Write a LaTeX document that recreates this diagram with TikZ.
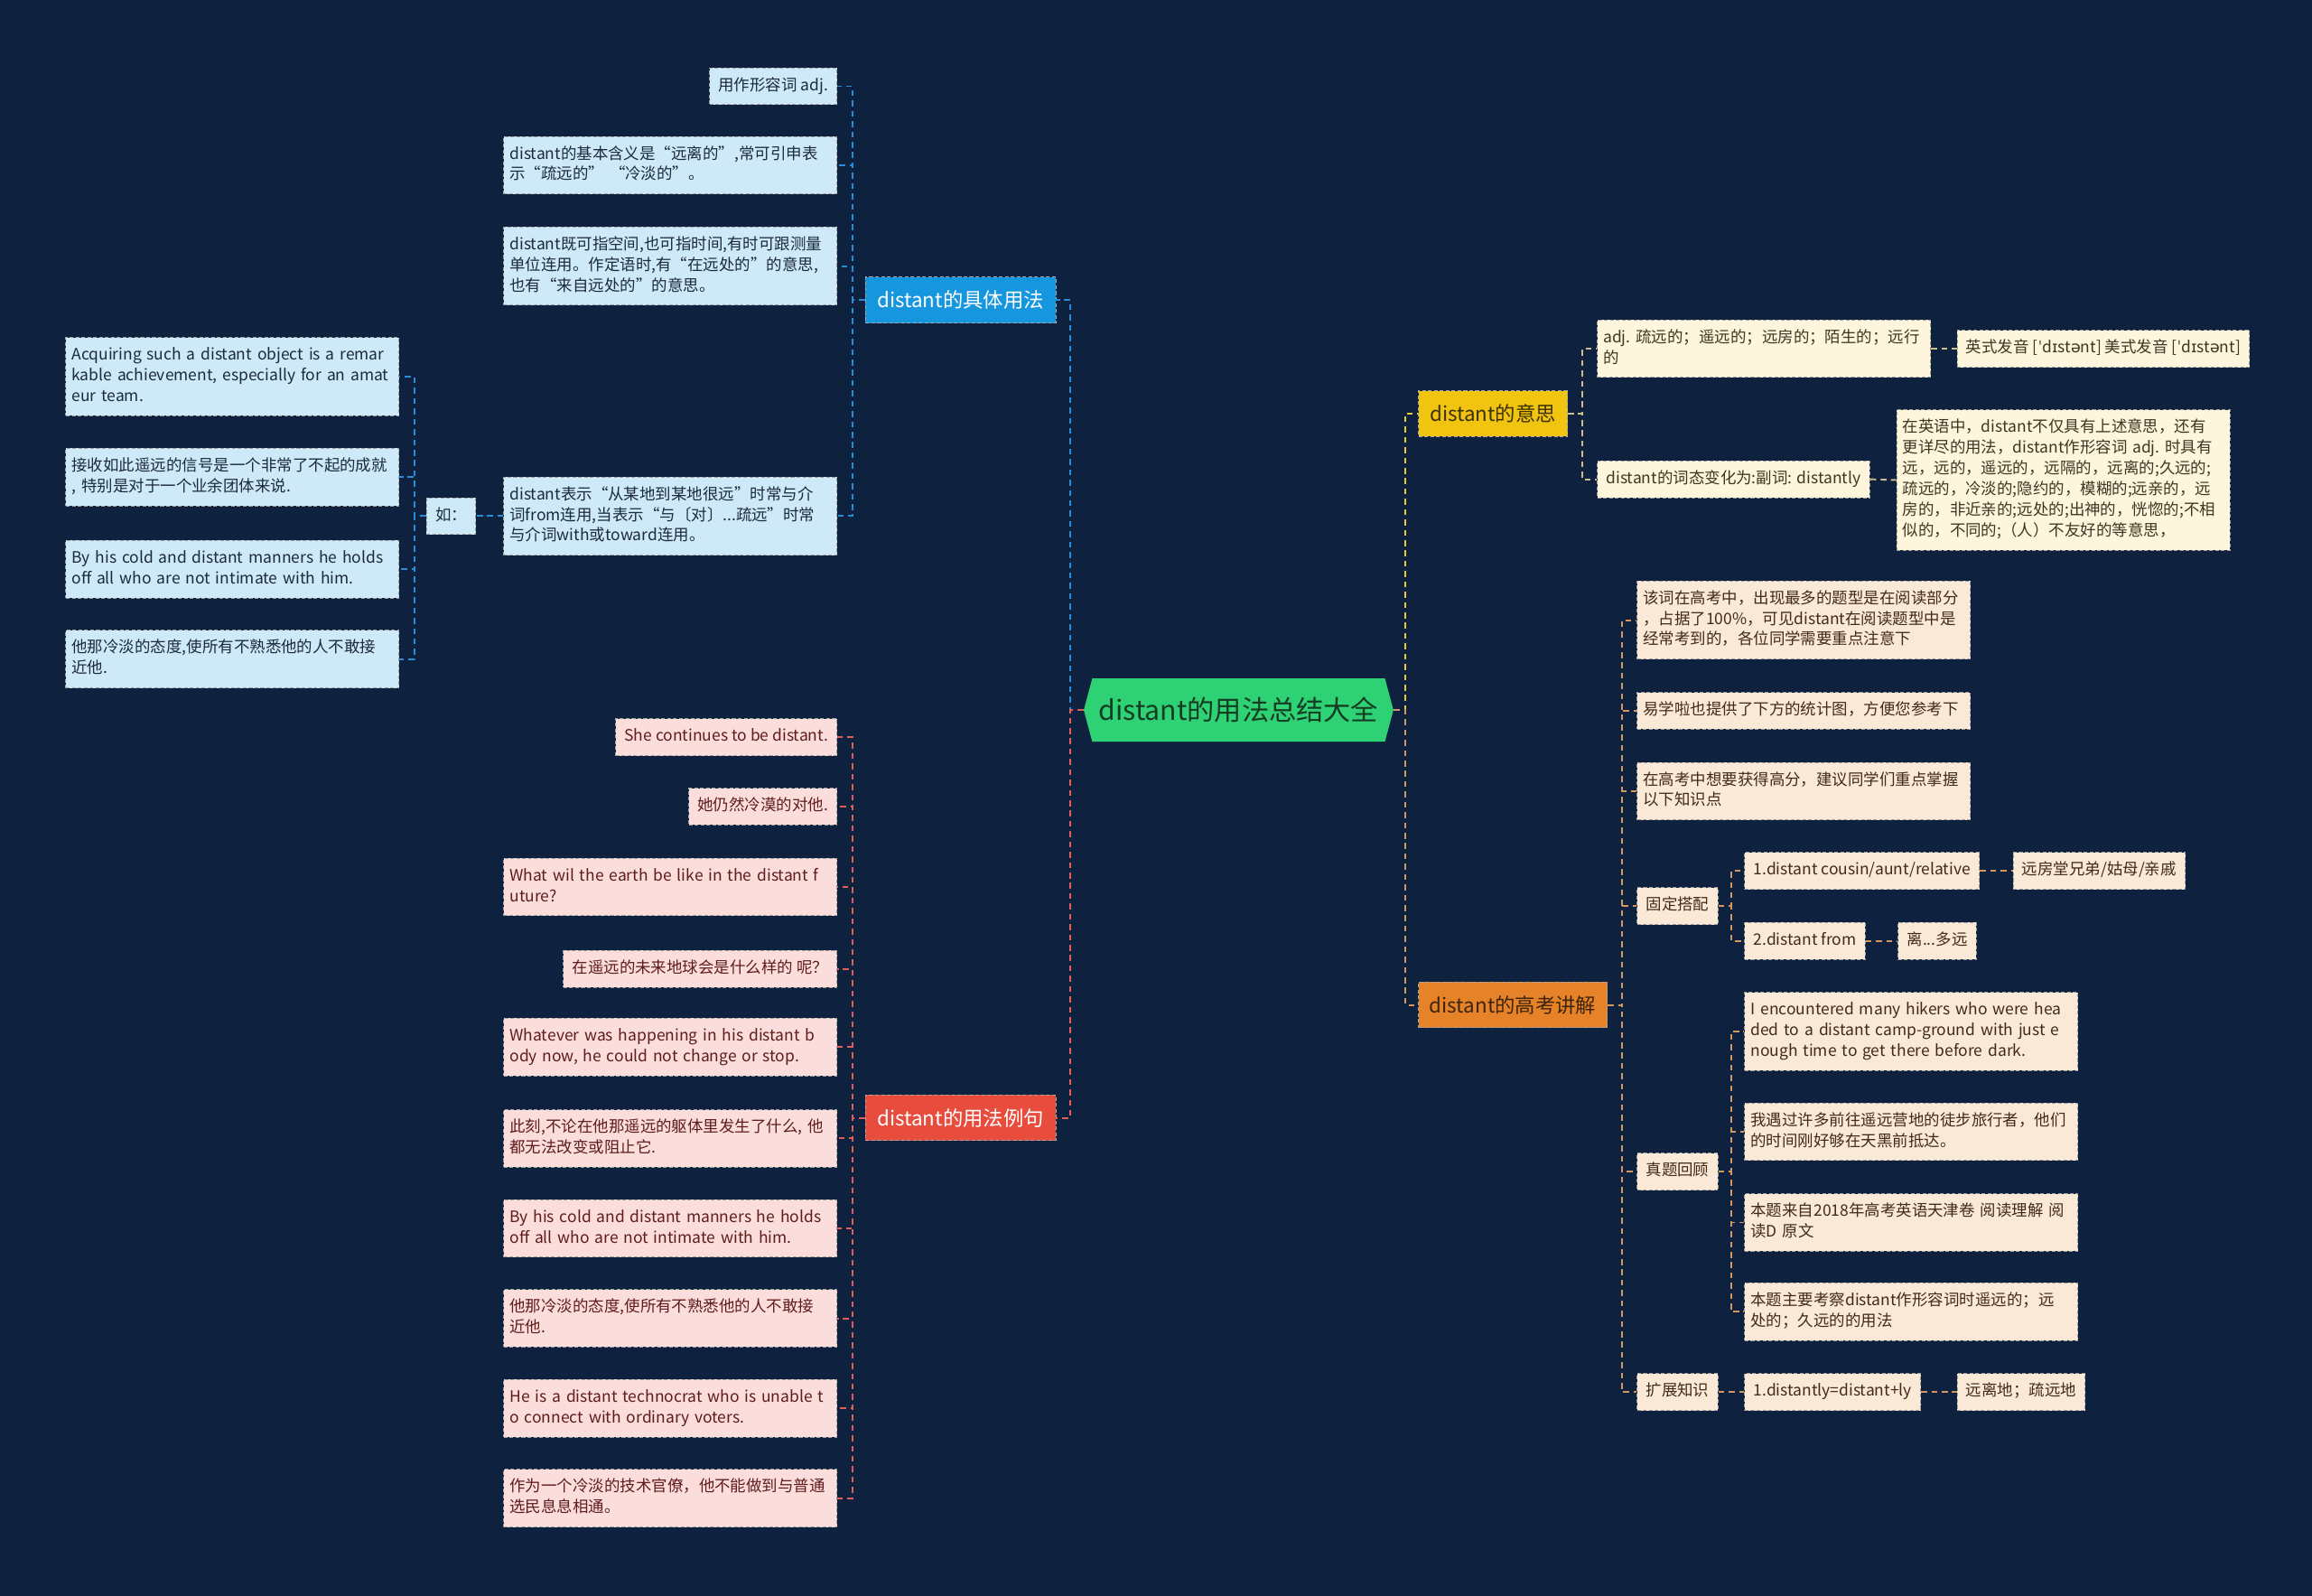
\documentclass[tikz,border=0pt]{standalone}
\usepackage{fontspec}
\setmainfont{Noto Sans CJK SC}
\newfontfamily\ipafont{DejaVu Sans}
\usetikzlibrary{shapes.symbols}

\definecolor{bgnavy}{RGB}{14,33,62}
\definecolor{rootgreen}{RGB}{46,209,115}
\definecolor{roottext}{RGB}{20,60,35}
\definecolor{useblue}{RGB}{22,150,222}
\definecolor{leafblue}{RGB}{206,234,248}
\definecolor{inkblue}{RGB}{28,42,58}
\definecolor{lineblue}{RGB}{40,140,215}
\definecolor{exred}{RGB}{232,76,61}
\definecolor{leafpink}{RGB}{251,222,219}
\definecolor{inkred}{RGB}{95,28,28}
\definecolor{linered}{RGB}{222,96,88}
\definecolor{meanyellow}{RGB}{241,196,15}
\definecolor{inkyellow}{RGB}{60,48,5}
\definecolor{leafcream}{RGB}{253,246,220}
\definecolor{inkolive}{RGB}{60,55,35}
\definecolor{lineyellow}{RGB}{236,200,60}
\definecolor{linekhaki}{RGB}{205,190,140}
\definecolor{examorange}{RGB}{230,130,40}
\definecolor{inkorange}{RGB}{62,36,14}
\definecolor{leafpeach}{RGB}{251,233,215}
\definecolor{inkbrown}{RGB}{66,42,22}
\definecolor{lineorange}{RGB}{214,150,95}

\begin{document}
\begin{tikzpicture}[%
            x=1pt,
            y=-1pt,
            ]
    \tikzset{box/.style = {draw=gray!75, dash pattern=on 2.5pt off 1.5pt, line width=0.6pt, inner xsep=6pt, inner ysep=5.5pt, align=left, font=\fontsize{10.7}{14}\selectfont, execute at begin node=\strut, execute at end node=\strut}}
    \tikzset{wide/.style = {text width=218pt, inner xsep=4pt}}
    \tikzset{bluebox/.style = {box, fill=leafblue, text=inkblue}}
    \tikzset{pinkbox/.style = {box, fill=leafpink, text=inkred}}
    \tikzset{creambox/.style = {box, fill=leafcream, text=inkolive}}
    \tikzset{peachbox/.style = {box, fill=leafpeach, text=inkbrown}}
    \tikzset{topic/.style = {draw=black!35, dash pattern=on 2.5pt off 1.5pt, line width=0.6pt, minimum height=31pt, inner sep=3pt, font=\fontsize{13.7}{16}\selectfont}}
    \tikzset{root/.style = {shape=signal, signal to=west and east, signal pointer angle=150, fill=rootgreen, text=roottext, minimum height=43pt, minimum width=210pt, inner xsep=4pt, font=\fontsize{18.5}{22}\selectfont}}
    \tikzset{link/.style = {line width=1.2pt, dash pattern=on 4pt off 3pt}}

    % Background
    \fill[bgnavy] (0,0) rectangle (1568,1082);

    % Root
    \node[root] (root) at (840,481.5) {distant的用法总结大全};

    % Main topics
    \node[topic, fill=useblue, text=white, minimum width=129pt] (usage) at (651.5,203.5) {distant的具体用法};
    \node[topic, fill=exred, text=white, minimum width=129pt] (examples) at (651.5,758) {distant的用法例句};
    \node[topic, fill=meanyellow, text=inkyellow, minimum width=101pt] (meaning) at (1012.5,280.5) {distant的意思};
    \node[topic, fill=examorange, text=inkorange, minimum width=128pt] (exam) at (1026,681.5) {distant的高考讲解};

    % Usage
    \node[bluebox, anchor=east] (u1) at (568,58.5) {用作形容词 adj.};
    \node[bluebox, wide, anchor=east] (u2) at (568,112) {distant的基本含义是“远离的”,常可引申表\\示“疏远的” “冷淡的”。};
    \node[bluebox, wide, anchor=east] (u3) at (568,180.5) {distant既可指空间,也可指时间,有时可跟测量\\单位连用。作定语时,有“在远处的”的意思,\\也有“来自远处的”的意思。};
    \node[bluebox, wide, anchor=east] (u4) at (568,350) {distant表示“从某地到某地很远”时常与介\\词from连用,当表示“与〔对〕...疏远”时常\\与介词with或toward连用。};
    \node[bluebox, anchor=east] (eg) at (323,350) {如：};
    \node[bluebox, wide, anchor=east] (eg1) at (271,255.5) {Acquiring such a distant object is a remar\\kable achievement, especially for an amat\\eur team.};
    \node[bluebox, wide, anchor=east] (eg2) at (271,323.5) {接收如此遥远的信号是一个非常了不起的成就\\, 特别是对于一个业余团体来说.};
    \node[bluebox, wide, anchor=east] (eg3) at (271,386) {By his cold and distant manners he holds\\off all who are not intimate with him.};
    \node[bluebox, wide, anchor=east] (eg4) at (271,447) {他那冷淡的态度,使所有不熟悉他的人不敢接\\近他.};

    % Examples
    \node[pinkbox, anchor=east] (x1) at (568,500) {She continues to be distant.};
    \node[pinkbox, anchor=east] (x2) at (568,547) {她仍然冷漠的对他.};
    \node[pinkbox, wide, anchor=east] (x3) at (568,601.5) {What wil the earth be like in the distant f\\uture?};
    \node[pinkbox, anchor=east] (x4) at (568,657) {在遥远的未来地球会是什么样的 呢？};
    \node[pinkbox, wide, anchor=east] (x5) at (568,710) {Whatever was happening in his distant b\\ody now, he could not change or stop.};
    \node[pinkbox, wide, anchor=east] (x6) at (568,772) {此刻,不论在他那遥远的躯体里发生了什么,~他\\都无法改变或阻止它.};
    \node[pinkbox, wide, anchor=east] (x7) at (568,833) {By his cold and distant manners he holds\\off all who are not intimate with him.};
    \node[pinkbox, wide, anchor=east] (x8) at (568,894) {他那冷淡的态度,使所有不熟悉他的人不敢接\\近他.};
    \node[pinkbox, wide, anchor=east] (x9) at (568,955) {He is a distant technocrat who is unable t\\o connect with ordinary voters.};
    \node[pinkbox, wide, anchor=east] (x10) at (568,1016) {作为一个冷淡的技术官僚，他不能做到与普通\\选民息息相通。};

    % Meaning
    \node[creambox, wide, anchor=west] (m1) at (1083,236.5) {adj.~疏远的；遥远的；远房的；陌生的；远行\\的};
    \node[creambox, anchor=west] (m1p) at (1327,236.5) {英式发音 [{\ipafont ˈ}d{\ipafont ɪ}st{\ipafont ə}nt] 美式发音 [{\ipafont ˈ}d{\ipafont ɪ}st{\ipafont ə}nt]};
    \node[creambox, anchor=west] (m2) at (1083,325) {distant的词态变化为:副词: distantly};
    \node[creambox, wide, anchor=west] (m2d) at (1286,325.5) {在英语中，distant不仅具有上述意思，还有\\更详尽的用法，distant作形容词~adj.~时具有\\远，远的，遥远的，远隔的，远离的;久远的;\\疏远的，冷淡的;隐约的，模糊的;远亲的，远\\房的，非近亲的;远处的;出神的，恍惚的;不相\\似的，不同的;（人）不友好的等意思，};

    % Exam
    \node[peachbox, wide, anchor=west] (k1) at (1110,420.5) {该词在高考中，出现最多的题型是在阅读部分\\，占据了100\%，可见distant在阅读题型中是\\经常考到的，各位同学需要重点注意下};
    \node[peachbox, wide, anchor=west] (k2) at (1110,482) {易学啦也提供了下方的统计图，方便您参考下};
    \node[peachbox, wide, anchor=west] (k3) at (1110,536.5) {在高考中想要获得高分，建议同学们重点掌握\\以下知识点};
    \node[peachbox, anchor=west] (k4) at (1110,614.5) {固定搭配};
    \node[peachbox, anchor=west] (k41) at (1183,590.5) {1.distant cousin/aunt/relative};
    \node[peachbox, anchor=west] (k41c) at (1365,590.5) {远房堂兄弟/姑母/亲戚};
    \node[peachbox, anchor=west] (k42) at (1183,638) {2.distant from};
    \node[peachbox, anchor=west] (k42c) at (1287,638) {离...多远};
    \node[peachbox, anchor=west] (k5) at (1110,794.5) {真题回顾};
    \node[peachbox, wide, anchor=west] (k51) at (1183,699.5) {I encountered many hikers who were hea\\ded to a distant camp-ground with just e\\nough time to get there before dark.};
    \node[peachbox, wide, anchor=west] (k52) at (1183,767.5) {我遇过许多前往遥远营地的徒步旅行者，他们\\的时间刚好够在天黑前抵达。};
    \node[peachbox, wide, anchor=west] (k53) at (1183,829) {本题来自2018年高考英语天津卷~阅读理解~阅\\读D 原文};
    \node[peachbox, wide, anchor=west] (k54) at (1183,889.5) {本题主要考察distant作形容词时遥远的；远\\处的；久远的的用法};
    \node[peachbox, anchor=west] (k6) at (1110,944) {扩展知识};
    \node[peachbox, anchor=west] (k61) at (1183,944) {1.distantly=distant+ly};
    \node[peachbox, anchor=west] (k61c) at (1327,944) {远离地；疏远地};

    % Trunks
    \coordinate (trunkL) at (726,0);
    \coordinate (trunkR) at (953,0);
    \coordinate (trunkU) at (578,0);
    \coordinate (trunkE) at (281,0);
    \coordinate (trunkX) at (578,0);
    \coordinate (trunkM) at (1073,0);
    \coordinate (trunkK) at (1100,0);
    \coordinate (trunkK4) at (1174,0);
    \coordinate (trunkK5) at (1174,0);

    % Links
    \draw[link, lineblue] (root.west) -- (root.west -| trunkL) |- (usage.east);
    \draw[link, linered] (root.west) -- (root.west -| trunkL) |- (examples.east);
    \draw[link, lineyellow] (root.east) -- (root.east -| trunkR) |- (meaning.west);
    \draw[link, lineorange] (root.east) -- (root.east -| trunkR) |- (exam.west);

    \foreach \n in {u1,u2,u3,u4}
        \draw[link, lineblue] (usage.west) -- (usage.west -| trunkU) |- (\n.east);
    \draw[link, lineblue] (u4.west) -- (eg.east);
    \foreach \n in {eg1,eg2,eg3,eg4}
        \draw[link, lineblue] (eg.west) -- (eg.west -| trunkE) |- (\n.east);

    \foreach \n in {x1,x2,x3,x4,x5,x6,x7,x8,x9,x10}
        \draw[link, linered] (examples.west) -- (examples.west -| trunkX) |- (\n.east);

    \foreach \n in {m1,m2}
        \draw[link, linekhaki] (meaning.east) -- (meaning.east -| trunkM) |- (\n.west);
    \draw[link, linekhaki] (m1.east) -- (m1p.west);
    \draw[link, linekhaki] (m2.east) -- (m2d.west);

    \foreach \n in {k1,k2,k3,k4,k5,k6}
        \draw[link, lineorange] (exam.east) -- (exam.east -| trunkK) |- (\n.west);
    \foreach \n in {k41,k42}
        \draw[link, lineorange] (k4.east) -- (k4.east -| trunkK4) |- (\n.west);
    \draw[link, lineorange] (k41.east) -- (k41c.west);
    \draw[link, lineorange] (k42.east) -- (k42c.west);
    \foreach \n in {k51,k52,k53,k54}
        \draw[link, lineorange] (k5.east) -- (k5.east -| trunkK5) |- (\n.west);
    \draw[link, lineorange] (k6.east) -- (k61.west);
    \draw[link, lineorange] (k61.east) -- (k61c.west);

\end{tikzpicture}
\end{document}
